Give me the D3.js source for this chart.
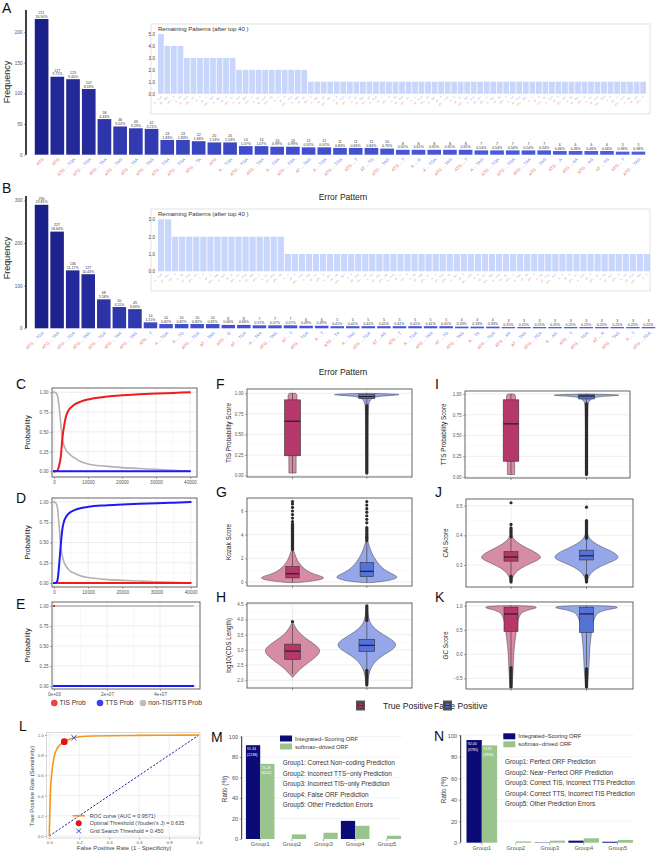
<!DOCTYPE html>
<html>
<head>
<meta charset="utf-8">
<script src="https://cdn.jsdelivr.net/npm/d3@7"></script>
<style>
  body { margin: 0; background: #fff; }
  svg { display: block; font-family: "Liberation Sans", Arial, sans-serif; }
</style>
</head>
<body>
<div id="chart"></div>
<script>
// ---------------- data ----------------
const totalA = 1308;
const countsA = [221,127,123,107,58,46,43,42,24,24,22,20,20,14,14,13,13,12,12,11,11,11,10,8,8,8,8,8,7,7,7,7,7,6,6,6,6,5,5];
const labelsA = ["ATG|","ATG|","ATG|TGA","ATG|TGA","ATG|TAA","ATG|TAG","ATG|TAA","ATG|TAG","ATG|TGA","ATG|TGA",
  "ATG|TA","ATG|","A|TGA","ATG|TGA","ATG|TAA","A|TGA","ATG|TGA","AT|TAG","A|TGA","ATG|TGA",
  "ATG|T","AT|TG","ATG|TAG","ATG|T","A|G","A|TGA","ATG|TAG","ATG|T","A|TAG","ATG|TGA",
  "ATG|TGA","ATG|TAA","ATG|TAG","ATG|A","ATG|AA","ATG|AG","AT|TG","ATG|T","ATG|TAG"];
const insetCountsA = [5,4,4,4,3,3,3,3,3,3,3,3,2,2,2,2,2,2,2,2,2,2,2,
  1,1,1,1,1,1,1,1,1,1,1,1,1, 1,1,1,1,1,1,1,1,1,1,1,1,1,
  1,1,1,1,1,1,1,1,1,1,1,1,1, 1,1,1,1,1,1,1,1,1,1,1,1,1];

const totalB = 1218;
const countsB = [290,227,136,127,68,50,45,14,10,10,10,10,8,8,7,7,7,6,6,5,5,5,5,5,5,5,5,4,4,4,3,3,3,3,3,3,3,3,3,3];
const labelsB = ["ATG|TGA","ATG|TAA","ATG|TGA","ATG|TAG","ATG|TGA","ATG|TAA","ATG|TAG","ATG|T","A|TGA","A|TG",
  "ATG|TGA","AT|TAG","ATG|G","AT|TGA","A|TAA","ATG|TAG","AT|T","ATG|TGA","A|T","ATG|TA",
  "A|TAG","ATG|TGA","AT|AG","ATG|T","A|TGA","ATG|TAA","AT|TG","ATG|TAG","A|TA","ATG|TGA",
  "ATG|AA","AT|TAG","ATG|TGA","A|AG","ATG|T","ATG|TGA","AT|A","ATG|TAG","A|T","ATG|TGA"];
const insetCountsB = [3,3,2,2,2,2,2,2,2,2,2,2,2,2,2,2,2,2,
  1,1,1,1,1,1,1,1,1,1,1,1,1, 1,1,1,1,1,1,1,1,1,1,1,1,1,
  1,1,1,1,1,1,1,1,1,1,1,1,1, 1,1,1,1,1,1,1,1,1,1,1,1,1];
const insetLabels = ("A|TGA AT|TAG ATG|T A|TA AT|TGA ATG|AG A|T AT|G ATG|TAA A|TAG AT|A ATG|TG A|TGA AT|TAA ATG|G " +
  "A|AG AT|TGA ATG|TA A|G AT|T ATG|TGA A|TAA AT|TG ATG|A A|TAG AT|AA ATG|TAG A|T AT|TGA ATG|GA " +
  "A|TG AT|TAG ATG|AA A|TGA AT|G ATG|T A|TA AT|TAA ATG|AG A|G AT|TGA ATG|TA A|TAG AT|T ATG|TGA " +
  "A|A AT|TG ATG|TAA A|TGA AT|AG ATG|G A|TAG AT|TA ATG|T A|AA AT|TGA ATG|TAG A|G AT|A ATG|TG " +
  "A|TGA AT|T ATG|AG A|TA AT|TAG ATG|A A|TG AT|TGA ATG|TAA A|T AT|G ATG|TGA A|TAG AT|AA ATG|T").split(" ");

// C / D / E : probability along the sequence
const posCD = [0,500,1000,1500,2000,2500,3000,3500,4000,5000,6000,8000,10000,15000,20000,25000,30000,35000,40000];
const cTIS = [0,0,0.01,0.07,0.19,0.43,0.58,0.69,0.75,0.81,0.845,0.885,0.91,0.943,0.962,0.974,0.984,0.992,1.0];
const cTTS = [0,0,0,0,0,0,0,0,0,0,0,0,0,0,0,0,0,0,0];
const cNon = [1.0,0.995,0.96,0.82,0.6,0.4,0.32,0.27,0.24,0.2,0.17,0.12,0.093,0.065,0.047,0.035,0.025,0.013,0.0];
const dTIS = [0,0,0,0,0,0,0,0,0,0,0,0,0,0,0,0,0,0,0];
const dTTS = [0,0,0.03,0.22,0.48,0.68,0.77,0.815,0.845,0.88,0.9,0.925,0.94,0.958,0.968,0.977,0.985,0.992,1.0];
const dNon = [1.0,0.99,0.93,0.7,0.45,0.32,0.25,0.21,0.18,0.14,0.12,0.085,0.068,0.045,0.033,0.024,0.016,0.008,0.0];
const posE = [0, 52600000];
const eTIS = [1, null];
const eTTS = [0, 0];
const eNon = [1, 1];
const probLegend = ["TIS Prob", "TTS Prob", "non-TIS/TTS Prob"];

// F-K : violin profiles [value, relative density], box stats [low, q1, median, q3, high]
const classNames = ["True Positive", "False Positive"];
const fTP = { prof: [[0.03,0.8],[0.1,0.8],[0.3,0.82],[0.5,0.82],[0.7,0.85],[0.85,0.9],[0.95,1],[0.99,1],[1.0,0.6]],
  box: [0.03,0.24,0.66,0.92,1.0], runs: [], dots: [] };
const fFP = { prof: [[0.03,0.02],[0.8,0.03],[0.88,0.06],[0.92,0.1],[0.95,0.2],[0.965,0.4],[0.975,0.75],[0.982,1],[0.99,0.9],[0.996,0.4],[1.0,0.05]],
  box: [0.86,0.935,0.96,0.985,1.0], runs: [[0.03,0.85]], dots: [] };
const gTP = { prof: [[-0.05,0.15],[0.1,0.7],[0.25,0.95],[0.4,1],[0.6,0.75],[0.8,0.55],[1.0,0.42],[1.3,0.3],[1.6,0.2],[2.0,0.12],[2.4,0.07],[2.7,0.03]],
  box: [-0.05,0.35,0.7,1.3,2.7], runs: [[2.75,4.9]], dots: [5.1,5.4,5.7,6.0,6.3,6.6,6.8] };
const gFP = { prof: [[-0.05,0.15],[0.1,0.68],[0.3,0.95],[0.45,1],[0.7,0.8],[1.0,0.58],[1.5,0.38],[2.0,0.25],[2.5,0.15],[3.0,0.08],[3.5,0.03]],
  box: [-0.05,0.45,0.9,1.65,3.5], runs: [[3.5,4.6]], dots: [3.75,5.0,5.3,5.6,5.9,6.2,6.5,6.8] };
const hTP = { prof: [[2.1,0.01],[2.2,0.1],[2.4,0.3],[2.6,0.6],[2.8,0.88],[2.95,1],[3.1,0.92],[3.3,0.6],[3.5,0.3],[3.7,0.12],[3.9,0.02]],
  box: [2.2,2.69,2.96,3.19,3.85], runs: [], dots: [3.93] };
const hFP = { prof: [[1.8,0.01],[2.0,0.04],[2.3,0.08],[2.6,0.25],[2.8,0.5],[3.0,0.85],[3.15,1],[3.3,0.9],[3.5,0.55],[3.7,0.25],[3.9,0.1],[4.1,0.05],[4.4,0.01]],
  box: [2.35,2.95,3.15,3.35,3.95], runs: [[3.97,4.45],[1.85,2.33]], dots: [] };
const iTP = { prof: [[0.03,0.8],[0.1,0.8],[0.3,0.82],[0.5,0.82],[0.7,0.85],[0.85,0.9],[0.95,1],[0.99,1],[1.0,0.6]],
  box: [0.03,0.19,0.64,0.93,1.0], runs: [], dots: [] };
const iFP = { prof: [[0.03,0.02],[0.85,0.03],[0.9,0.06],[0.93,0.1],[0.955,0.2],[0.97,0.4],[0.978,0.75],[0.985,1],[0.99,0.9],[0.996,0.4],[1.0,0.05]],
  box: [0.89,0.94,0.975,0.99,1.0], runs: [[0.03,0.88]], dots: [] };
const jTP = { prof: [[0.24,0.01],[0.26,0.05],[0.28,0.18],[0.3,0.5],[0.315,0.85],[0.325,1],[0.34,0.85],[0.355,0.55],[0.37,0.28],[0.385,0.1],[0.4,0.02]],
  box: [0.265,0.313,0.327,0.345,0.395], runs: [[0.395,0.425],[0.243,0.262]], dots: [0.437,0.51] };
const jFP = { prof: [[0.24,0.01],[0.26,0.05],[0.28,0.18],[0.3,0.5],[0.315,0.85],[0.325,1],[0.34,0.88],[0.355,0.58],[0.37,0.3],[0.385,0.12],[0.4,0.03],[0.42,0.01]],
  box: [0.27,0.317,0.331,0.35,0.39], runs: [[0.39,0.45],[0.243,0.265]], dots: [0.495] };
const kTP = { prof: [[-0.7,0.03],[-0.5,0.06],[-0.3,0.08],[0,0.1],[0.2,0.13],[0.4,0.18],[0.6,0.22],[0.8,0.3],[0.88,0.45],[0.93,0.75],[0.96,1],[0.99,0.85],[1.0,0.3]],
  box: [-0.25,0.47,0.83,0.97,1.0], runs: [[-0.68,-0.28]], dots: [] };
const kFP = { prof: [[-0.7,0.02],[-0.5,0.05],[-0.3,0.07],[0,0.09],[0.2,0.11],[0.4,0.14],[0.6,0.18],[0.8,0.26],[0.88,0.4],[0.93,0.72],[0.96,1],[0.99,0.85],[1.0,0.3]],
  box: [-0.25,0.45,0.83,0.97,1.0], runs: [[-0.68,-0.3]], dots: [] };

// L : ROC
const rocFpr = [0,0.003,0.008,0.015,0.025,0.035,0.05,0.07,0.1,0.13,0.165,0.2,0.25,0.3,0.4,0.6,0.8,1];
const rocTpr = [0,0.2,0.45,0.6,0.72,0.8,0.86,0.9,0.93,0.955,0.972,0.982,0.988,0.99,0.993,0.996,0.998,1];
const optPoint = [0.1, 0.934];
const gridPoint = [0.165, 0.973];
const rocLegend = ["ROC curve (AUC = 0.9571)", "Optimal Threshold (Youden's J) = 0.635", "Grid Search Threshold = 0.450"];

// M / N : grouped bars
const groups = ["Group1","Group2","Group3","Group4","Group5"];
const seriesNames = ["Integrated\u2212Scoring ORF", "softmax\u2212drived ORF"];
const mIntegrated = [91.5, 0, 0, 17.7, 0];
const mSoftmax = [73.3, 4.5, 6.1, 12.9, 3.2];
const mBarLabels = [["91.34","(1238)"],["73.28","(1102)"]];
const mDesc = ["Group1: Correct Non\u2212coding Prediction","Group2: Incorrect TTS\u2212only Prediction",
  "Group3: Incorrect TIS\u2212only Prediction","Group4: False ORF Prediction","Group5: Other Prediction Errors"];
const nIntegrated = [95.6, 0, 0.3, 1.9, 0.9];
const nSoftmax = [90.6, 1.25, 1.9, 4.1, 2.5];
const nBarLabels = [["92.00","(3785)"],["73.81","(3398)"]];
const nDesc = ["Group1: Perfect ORF Prediction","Group2: Near\u2212Perfect ORF Prediction",
  "Group3: Correct TIS, Incorrect TTS Prediction","Group4: Correct TTS, Incorrect TIS Prediction","Group5: Other Prediction Errors"];

// ---------------- drawing ----------------
const FONT = "'Liberation Sans', Arial, sans-serif";
const svg = d3.select("#chart").append("svg").attr("width", 658).attr("height", 854);
svg.append("rect").attr("width", 658).attr("height", 854).attr("fill", "#fff");

function letter(t, x, y) {
  svg.append("text").attr("x", x).attr("y", y).attr("font-size", 14).attr("fill", "#111").text(t);
}
function styleAxis(a, fs, col) {
  a.select(".domain").remove();
  a.selectAll(".tick line").attr("stroke", "#555").attr("stroke-width", 0.5);
  a.selectAll(".tick text").attr("font-size", fs).attr("fill", col || "#555").attr("font-family", FONT);
}
function patternLabel(g, str, x, y, fs) {
  const parts = str.split("|");
  const t = g.append("text").attr("transform", `translate(${x},${y}) rotate(-45)`)
    .attr("text-anchor", "end").attr("font-size", fs);
  t.append("tspan").attr("fill", "#e6676c").text(parts[0]);
  if (parts[1]) {
    t.append("tspan").attr("fill", "#b0b0b0").text(" ... ");
    t.append("tspan").attr("fill", "#6a7ce6").text(parts[1]);
  }
}

// ---- A / B main bar chart ----
function barChart(cfg) {
  const g = svg.append("g");
  const x = d3.scaleBand().domain(d3.range(cfg.counts.length)).range([cfg.x0, cfg.x1]).paddingInner(0.13).paddingOuter(0.05);
  const y = d3.scaleLinear().domain([0, cfg.yMax]).range([cfg.yBase, cfg.yTop]);
  const col = d3.scaleLog().domain([d3.min(cfg.counts), d3.max(cfg.counts)]).range(["#4d5ee4", "#1b1f89"]);

  const ax = g.append("g").attr("transform", `translate(${cfg.axisX},0)`)
    .call(d3.axisLeft(y).tickValues(cfg.ticks).tickSize(2).tickSizeOuter(0).tickPadding(1.5));
  styleAxis(ax, 4.6);
  g.append("line").attr("x1", cfg.axisX).attr("x2", cfg.axisX).attr("y1", cfg.yTop).attr("y2", cfg.yBase)
    .attr("stroke", "#111").attr("stroke-width", 1.6);

  g.selectAll("rect.bar").data(cfg.counts).join("rect").attr("class", "bar")
    .attr("x", (d, i) => x(i)).attr("y", d => y(d))
    .attr("width", x.bandwidth()).attr("height", d => cfg.yBase - y(d))
    .attr("fill", d => col(d));

  const lab = g.append("g").attr("font-size", 3.6).attr("fill", "#333").attr("text-anchor", "middle");
  cfg.counts.forEach((d, i) => {
    const cx = x(i) + x.bandwidth() / 2;
    lab.append("text").attr("x", cx).attr("y", y(d) - 5.2).text(d);
    lab.append("text").attr("x", cx).attr("y", y(d) - 1.4).text((d / cfg.total * 100).toFixed(2) + "%");
    patternLabel(g, cfg.labels[i], cx + 2.5, cfg.yBase + 5, 4.3);
  });

  g.append("text").attr("transform", `translate(${cfg.axisX - 16},${cfg.yMid}) rotate(-90)`)
    .attr("text-anchor", "middle").attr("font-size", 9).attr("fill", "#222").text("Frequency");
  g.append("text").attr("x", 343).attr("y", cfg.titleY).attr("text-anchor", "middle")
    .attr("font-size", 8.5).attr("fill", "#222").text("Error Pattern");
}

function inset(cfg) {
  const g = svg.append("g");
  g.append("rect").attr("x", cfg.bx0).attr("y", cfg.by0).attr("width", cfg.bx1 - cfg.bx0).attr("height", cfg.by1 - cfg.by0)
    .attr("fill", "#fff").attr("stroke", "#e2e2e2").attr("stroke-width", 1);
  g.append("text").attr("x", cfg.bx0 + 7).attr("y", cfg.by0 + 6.5).attr("font-size", 6).attr("fill", "#333")
    .text("Remaining Patterns (after top 40 )");
  const x = d3.scaleBand().domain(d3.range(cfg.counts.length)).range([cfg.x0, cfg.x1]).paddingInner(0.12);
  const y = d3.scaleLinear().domain([0, d3.max(cfg.ticks)]).range([cfg.yBase, cfg.yTop]);
  const ax = g.append("g").attr("transform", `translate(${cfg.x0 - 1},0)`)
    .call(d3.axisLeft(y).tickValues(cfg.ticks).tickSize(0).tickPadding(2));
  styleAxis(ax, 4.6, "#444");
  g.selectAll("rect.ib").data(cfg.counts).join("rect").attr("class", "ib")
    .attr("x", (d, i) => x(i)).attr("y", d => y(d))
    .attr("width", x.bandwidth()).attr("height", d => cfg.yBase - y(d)).attr("fill", "#c8d6fc");
  cfg.counts.forEach((d, i) => {
    patternLabel(g, cfg.labels[i], x(i) + x.bandwidth() / 2 + 1, cfg.yBase + 3.5, 2.4);
  });
}

letter("A", 2, 13);
barChart({ counts: countsA, labels: labelsA, total: totalA, x0: 34, x1: 646, yBase: 154.7, yTop: 10, yMax: 235.7,
  ticks: [0, 50, 100, 150, 200], axisX: 26, yMid: 82, titleY: 200 });
inset({ bx0: 151, by0: 24, bx1: 650, by1: 114, x0: 158, x1: 646, yBase: 93.7, yTop: 34, ticks: [0,1,2,3,4,5],
  counts: insetCountsA, labels: insetLabels });

letter("B", 2, 193);
barChart({ counts: countsB, labels: labelsB, total: totalB, x0: 34, x1: 656, yBase: 328.3, yTop: 196, yMax: 310.6,
  ticks: [0, 100, 200, 300], axisX: 26, yMid: 258, titleY: 375 });
inset({ bx0: 151, by0: 209, bx1: 650, by1: 291, x0: 158, x1: 650, yBase: 271.3, yTop: 219.3, ticks: [0,1,2,3],
  counts: insetCountsB, labels: insetLabels.slice(0, insetCountsB.length) });

// ---- C / D / E probability panels ----
const probColors = ["#ee1c1c", "#1c1cf2", "#b2b2b2"];
function probPanel(cfg) {
  const g = svg.append("g");
  const b = cfg.box;
  const x = d3.scaleLinear().domain(cfg.xDomain).range(cfg.xRange);
  const y = d3.scaleLinear().domain([0, 1]).range(cfg.yRange);
  const yTicks = [0, 0.25, 0.5, 0.75, 1];
  g.append("rect").attr("x", b[0]).attr("y", b[1]).attr("width", b[2] - b[0]).attr("height", b[3] - b[1]).attr("fill", "#fff");
  const xMinor = cfg.xTicks.slice(1).map((t, i) => (t + cfg.xTicks[i]) / 2);
  const yMinor = yTicks.slice(1).map((t, i) => (t + yTicks[i]) / 2);
  xMinor.forEach(t => g.append("line").attr("x1", x(t)).attr("x2", x(t)).attr("y1", b[1]).attr("y2", b[3]).attr("stroke", "#f3f3f3").attr("stroke-width", 0.5));
  yMinor.forEach(t => g.append("line").attr("x1", b[0]).attr("x2", b[2]).attr("y1", y(t)).attr("y2", y(t)).attr("stroke", "#f3f3f3").attr("stroke-width", 0.5));
  cfg.xTicks.forEach(t => g.append("line").attr("x1", x(t)).attr("x2", x(t)).attr("y1", b[1]).attr("y2", b[3]).attr("stroke", "#e6e6e6").attr("stroke-width", 0.7));
  yTicks.forEach(t => g.append("line").attr("x1", b[0]).attr("x2", b[2]).attr("y1", y(t)).attr("y2", y(t)).attr("stroke", "#e6e6e6").attr("stroke-width", 0.7));

  const line = d3.line().defined(d => d[1] !== null).x(d => x(d[0])).y(d => y(d[1])).curve(d3.curveMonotoneX);
  // draw order: non-TIS/TTS, TIS, TTS
  [2, 0, 1].forEach(k => {
    const pts = cfg.xs.map((v, i) => [v, cfg.series[k][i]]);
    g.append("path").attr("d", line(pts)).attr("fill", "none").attr("stroke", probColors[k])
      .attr("stroke-width", k === 2 ? 1.6 : 2).attr("stroke-linecap", "round");
    pts.filter(p => p[1] !== null).slice(0, 1).forEach(p =>
      g.append("circle").attr("cx", x(p[0])).attr("cy", y(p[1])).attr("r", 1).attr("fill", probColors[k]));
  });

  g.append("rect").attr("x", b[0]).attr("y", b[1]).attr("width", b[2] - b[0]).attr("height", b[3] - b[1])
    .attr("fill", "none").attr("stroke", "#555").attr("stroke-width", 0.9);
  const ax = g.append("g").attr("transform", `translate(0,${b[3]})`)
    .call(d3.axisBottom(x).tickValues(cfg.xTicks).tickFormat(cfg.xFormat).tickSize(2).tickPadding(1.5));
  styleAxis(ax, 4.6);
  const ay = g.append("g").attr("transform", `translate(${b[0]},0)`)
    .call(d3.axisLeft(y).tickValues(yTicks).tickFormat(d3.format(".2f")).tickSize(2).tickPadding(1.5));
  styleAxis(ay, 4.6);
  g.append("text").attr("transform", `translate(${b[0] - 22},${(b[1] + b[3]) / 2}) rotate(-90)`)
    .attr("text-anchor", "middle").attr("font-size", 7.3).attr("fill", "#222").text("Probability");
}
const sciFmt = d => {
  if (d === 0) return "0e+00";
  const e = Math.floor(Math.log10(d));
  return `${Math.round(d / Math.pow(10, e))}e+${String(e).padStart(2, "0")}`;
};

letter("C", 16, 389);
probPanel({ box: [52, 388, 197, 477], xDomain: [0, 40000], xRange: [54, 190], yRange: [471.3, 392.3],
  xTicks: [0, 10000, 20000, 30000, 40000], xFormat: d3.format("d"), xs: posCD, series: [cTIS, cTTS, cNon] });
letter("D", 16, 503);
probPanel({ box: [52, 498, 197, 587], xDomain: [0, 40000], xRange: [54, 190.7], yRange: [583, 502],
  xTicks: [0, 10000, 20000, 30000, 40000], xFormat: d3.format("d"), xs: posCD, series: [dTIS, dTTS, dNon] });
letter("E", 16, 609);
probPanel({ box: [52, 602, 200, 689], xDomain: [0, 20000000], xRange: [54, 107], yRange: [686, 606],
  xTicks: [0, 20000000, 40000000], xFormat: sciFmt, xs: posE, series: [eTIS, eTTS, eNon] });

// legend of C-E
const leg = svg.append("g").attr("font-size", 6.6).attr("fill", "#333");
[54.3, 100, 143].forEach((lx, i) => {
  leg.append("circle").attr("cx", lx).attr("cy", 703).attr("r", 3.3).attr("fill", probColors[i]).attr("opacity", 0.85);
  leg.append("text").attr("x", lx + 5.3).attr("y", 705.4).text(probLegend[i]);
});

// ---- F-K violin panels ----
const classColors = [{ violin: "#d4869f", box: "#b6386b" }, { violin: "#8fa2e7", box: "#5572d8" }];
function violinPanel(cfg) {
  const g = svg.append("g");
  const b = cfg.box;
  const y = d3.scaleLinear().domain(cfg.yDomain).range(cfg.yRange);
  g.append("rect").attr("x", b[0]).attr("y", b[1]).attr("width", b[2] - b[0]).attr("height", b[3] - b[1]).attr("fill", "#fff");
  const minor = cfg.ticks.slice(1).map((t, i) => (t + cfg.ticks[i]) / 2);
  minor.forEach(t => g.append("line").attr("x1", b[0]).attr("x2", b[2]).attr("y1", y(t)).attr("y2", y(t)).attr("stroke", "#f3f3f3").attr("stroke-width", 0.5));
  cfg.ticks.forEach(t => g.append("line").attr("x1", b[0]).attr("x2", b[2]).attr("y1", y(t)).attr("y2", y(t)).attr("stroke", "#e6e6e6").attr("stroke-width", 0.7));
  cfg.centers.forEach(c => g.append("line").attr("x1", c).attr("x2", c).attr("y1", b[1]).attr("y2", b[3]).attr("stroke", "#e6e6e6").attr("stroke-width", 0.7));

  cfg.data.forEach((d, k) => {
    const cx = cfg.centers[k];
    const w = d3.scaleLinear().domain([0, 1]).range([0, cfg.maxHW[k]]);
    const area = d3.area().y(p => y(p[0])).x0(p => cx - w(p[1])).x1(p => cx + w(p[1])).curve(d3.curveBasis);
    g.append("path").attr("d", area(d.prof)).attr("fill", classColors[k].violin).attr("fill-opacity", 0.95)
      .attr("stroke", "#4a4a4a").attr("stroke-width", 0.55);
    const [lo, q1, med, q3, hi] = d.box;
    g.append("line").attr("x1", cx).attr("x2", cx).attr("y1", y(lo)).attr("y2", y(q1)).attr("stroke", "#333").attr("stroke-width", 0.6);
    g.append("line").attr("x1", cx).attr("x2", cx).attr("y1", y(q3)).attr("y2", y(hi)).attr("stroke", "#333").attr("stroke-width", 0.6);
    d.runs.forEach(r => g.append("line").attr("x1", cx).attr("x2", cx).attr("y1", y(r[0])).attr("y2", y(r[1]))
      .attr("stroke", "#2b2b2b").attr("stroke-width", 3.2).attr("stroke-linecap", "round"));
    d.dots.forEach(v => g.append("circle").attr("cx", cx).attr("cy", y(v)).attr("r", 1.6).attr("fill", "#2b2b2b"));
    g.append("rect").attr("x", cx - cfg.boxHW).attr("y", y(q3)).attr("width", 2 * cfg.boxHW).attr("height", y(q1) - y(q3))
      .attr("fill", classColors[k].box).attr("stroke", "#333").attr("stroke-width", 0.6);
    g.append("line").attr("x1", cx - cfg.boxHW).attr("x2", cx + cfg.boxHW).attr("y1", y(med)).attr("y2", y(med))
      .attr("stroke", "#222").attr("stroke-width", 1.2);
    g.append("line").attr("x1", cx).attr("x2", cx).attr("y1", b[3]).attr("y2", b[3] + 2).attr("stroke", "#555").attr("stroke-width", 0.6);
  });

  g.append("rect").attr("x", b[0]).attr("y", b[1]).attr("width", b[2] - b[0]).attr("height", b[3] - b[1])
    .attr("fill", "none").attr("stroke", "#555").attr("stroke-width", 0.9);
  const ay = g.append("g").attr("transform", `translate(${b[0]},0)`)
    .call(d3.axisLeft(y).tickValues(cfg.ticks).tickFormat(d3.format(cfg.fmt)).tickSize(2).tickPadding(1.5));
  styleAxis(ay, 4.5);
  g.append("text").attr("transform", `translate(${b[0] - cfg.labelOff},${(b[1] + b[3]) / 2}) rotate(-90)`)
    .attr("text-anchor", "middle").attr("font-size", 6.4).attr("fill", "#222").text(cfg.ylabel);
}

const cLeft = [292.5, 366.8], cRight = [511, 586.5];
letter("F", 216, 389);
violinPanel({ box: [247, 389, 412, 477], yDomain: [0, 1], yRange: [475.5, 393.3], ticks: [0, 0.25, 0.5, 0.75, 1], fmt: ".2f",
  centers: cLeft, data: [fTP, fFP], maxHW: [4.5, 34], boxHW: 8, ylabel: "TIS Probability Score", labelOff: 16.5 });
letter("G", 216, 497);
violinPanel({ box: [247, 498, 412, 586], yDomain: [0, 6], yRange: [582, 511], ticks: [0, 2, 4, 6], fmt: "d",
  centers: cLeft, data: [gTP, gFP], maxHW: [32, 31], boxHW: 6.7, ylabel: "Kozak Score", labelOff: 16.5 });
letter("H", 216, 602);
violinPanel({ box: [247, 603, 412, 688], yDomain: [2, 4.5], yRange: [680.3, 604.3], ticks: [2, 2.5, 3, 3.5, 4, 4.5], fmt: ".1f",
  centers: cLeft, data: [hTP, hFP], maxHW: [28, 30], boxHW: 7.8, ylabel: "log10(CDS Length)", labelOff: 16.5 });
letter("I", 435, 389);
violinPanel({ box: [465, 391, 630, 478], yDomain: [0, 1], yRange: [477, 394], ticks: [0, 0.25, 0.5, 0.75, 1], fmt: ".2f",
  centers: cRight, data: [iTP, iFP], maxHW: [4.5, 34], boxHW: 7.8, ylabel: "TTS Probability Score", labelOff: 19 });
letter("J", 435, 497);
violinPanel({ box: [466, 499, 633, 587], yDomain: [0.3, 0.5], yRange: [565, 505.7], ticks: [0.3, 0.4, 0.5], fmt: ".1f",
  centers: cRight, data: [jTP, jFP], maxHW: [31, 33], boxHW: 7, ylabel: "CAI Score", labelOff: 18 });
letter("K", 435, 602);
violinPanel({ box: [466, 602, 633, 689], yDomain: [-0.5, 1], yRange: [678.3, 605.7], ticks: [-0.5, 0, 0.5, 1], fmt: ".1f",
  centers: cRight, data: [kTP, kFP], maxHW: [27, 33], boxHW: 7, ylabel: "GC Score", labelOff: 18 });

// class legend
function classGlyph(x, y, k) {
  svg.append("rect").attr("x", x).attr("y", y).attr("width", 9).attr("height", 10).attr("fill", "#555");
  svg.append("rect").attr("x", x + 2).attr("y", y + 2.5).attr("width", 5).attr("height", 5).attr("fill", classColors[k].box)
    .attr("stroke", "#222").attr("stroke-width", 0.5);
  svg.append("line").attr("x1", x + 2).attr("x2", x + 7).attr("y1", y + 5).attr("y2", y + 5).attr("stroke", "#222").attr("stroke-width", 0.8);
}
svg.append("text").attr("x", 383).attr("y", 709).attr("font-size", 8.6).attr("fill", "#222").text(classNames[0]);
svg.append("text").attr("x", 434).attr("y", 709).attr("font-size", 8.6).attr("fill", "#222").text(classNames[1]);
classGlyph(356, 700.5, 0);
classGlyph(443, 700.5, 1);

// ---- L ROC ----
letter("L", 19, 731);
(function () {
  const g = svg.append("g");
  const b = [46.5, 732.5, 200, 838];
  const x = d3.scaleLinear().domain([0, 1]).range([49.3, 199]);
  const y = d3.scaleLinear().domain([0, 1]).range([836, 735]);
  const ticks = [0, 0.2, 0.4, 0.6, 0.8, 1];
  g.append("rect").attr("x", b[0]).attr("y", b[1]).attr("width", b[2] - b[0]).attr("height", b[3] - b[1]).attr("fill", "#fff");
  ticks.forEach(t => {
    g.append("line").attr("x1", x(t)).attr("x2", x(t)).attr("y1", b[1]).attr("y2", b[3]).attr("stroke", "#e4e4e4").attr("stroke-width", 0.6);
    g.append("line").attr("x1", b[0]).attr("x2", b[2]).attr("y1", y(t)).attr("y2", y(t)).attr("stroke", "#e4e4e4").attr("stroke-width", 0.6);
  });
  g.append("rect").attr("x", b[0]).attr("y", b[1]).attr("width", b[2] - b[0]).attr("height", b[3] - b[1])
    .attr("fill", "none").attr("stroke", "#d0d0d0").attr("stroke-width", 0.8);
  g.append("line").attr("x1", x(0)).attr("y1", y(0)).attr("x2", x(1)).attr("y2", y(1))
    .attr("stroke", "#1c1c9c").attr("stroke-width", 1).attr("stroke-dasharray", "2.2,1.6");
  const line = d3.line().x(d => x(d[0])).y(d => y(d[1])).curve(d3.curveMonotoneX);
  g.append("path").attr("d", line(rocFpr.map((f, i) => [f, rocTpr[i]]))).attr("fill", "none")
    .attr("stroke", "#f5961d").attr("stroke-width", 1.6);
  g.append("circle").attr("cx", x(optPoint[0])).attr("cy", y(optPoint[1])).attr("r", 3.4).attr("fill", "#e3121a");
  const cross = (cx, cy, s) => g.append("path").attr("d", `M${cx - s},${cy - s}L${cx + s},${cy + s}M${cx - s},${cy + s}L${cx + s},${cy - s}`)
    .attr("stroke", "#3146e6").attr("stroke-width", 1);
  cross(x(gridPoint[0]), y(gridPoint[1]), 2.6);

  const ax = g.append("g").attr("transform", `translate(0,${b[3]})`)
    .call(d3.axisBottom(x).tickValues(ticks).tickFormat(d3.format(".1f")).tickSize(1.5).tickPadding(1.2));
  styleAxis(ax, 4.4, "#666");
  const ay = g.append("g").attr("transform", `translate(${b[0]},0)`)
    .call(d3.axisLeft(y).tickValues(ticks).tickFormat(d3.format(".1f")).tickSize(1.5).tickPadding(1.2));
  styleAxis(ay, 4.4, "#666");
  g.append("text").attr("x", 124).attr("y", 850).attr("text-anchor", "middle").attr("font-size", 6.1).attr("fill", "#444")
    .text("False Positive Rate (1 - Specificity)");
  g.append("text").attr("transform", `translate(34,786) rotate(-90)`).attr("text-anchor", "middle")
    .attr("font-size", 5.9).attr("fill", "#444").text("True Positive Rate (Sensitivity)");

  const ly = [815.7, 823.3, 831];
  g.append("line").attr("x1", 72.5).attr("x2", 85).attr("y1", ly[0]).attr("y2", ly[0]).attr("stroke", "#f5961d").attr("stroke-width", 1.6);
  g.append("circle").attr("cx", 78.7).attr("cy", ly[1]).attr("r", 3).attr("fill", "#e3121a");
  cross(78.7, ly[2], 2.4);
  rocLegend.forEach((t, i) => g.append("text").attr("x", 89.7).attr("y", ly[i] + 1.9).attr("font-size", 5.4).attr("fill", "#444").text(t));
})();

// ---- M / N grouped bars ----
const seriesColors = ["#0b0b78", "#9ac48d"];
function groupedBars(cfg) {
  const g = svg.append("g");
  const x = d3.scaleBand().domain(groups).range([cfg.x0, cfg.x1]).paddingInner(0.08).paddingOuter(0.02);
  const xs = d3.scaleBand().domain([0, 1]).range([0, x.bandwidth()]).paddingOuter(0.02);
  const y = d3.scaleLinear().domain([0, 100]).range([cfg.yBase, cfg.yTop]);
  [20, 40, 60, 80, 100].forEach(t => g.append("line").attr("x1", cfg.axisX).attr("x2", cfg.x1)
    .attr("y1", y(t)).attr("y2", y(t)).attr("stroke", "#eeeeee").attr("stroke-width", 0.7));
  [cfg.a, cfg.b].forEach((vals, k) => {
    g.selectAll(null).data(vals).join("rect")
      .attr("x", (d, i) => x(groups[i]) + xs(k)).attr("y", d => y(d))
      .attr("width", xs.bandwidth()).attr("height", d => cfg.yBase - y(d)).attr("fill", seriesColors[k]);
    const bx = x(groups[0]) + xs(k) + 1.2;
    g.append("text").attr("x", bx).attr("y", y(vals[0]) + 5).attr("font-size", 3.6).attr("fill", "#fff").text(cfg.barLabels[k][0]);
    g.append("text").attr("x", bx).attr("y", y(vals[0]) + 10.5).attr("font-size", 3.6).attr("fill", "#fff").text(cfg.barLabels[k][1]);
  });
  const ay = g.append("g").attr("transform", `translate(${cfg.axisX},0)`)
    .call(d3.axisLeft(y).tickValues([0, 20, 40, 60, 80, 100]).tickSize(2).tickPadding(1.5));
  styleAxis(ay, 5.6);
  g.append("line").attr("x1", cfg.axisX).attr("x2", cfg.axisX).attr("y1", y(100)).attr("y2", cfg.yBase).attr("stroke", "#111").attr("stroke-width", 0.9);
  const ax = g.append("g").attr("transform", `translate(0,${cfg.yBase})`)
    .call(d3.axisBottom(x).tickSize(2).tickPadding(1.5));
  styleAxis(ax, 5.6);
  g.append("text").attr("transform", `translate(${cfg.axisX - 15},${cfg.yMid}) rotate(-90)`).attr("text-anchor", "middle")
    .attr("font-size", 6.3).attr("fill", "#333").text("Ratio (%)");

  seriesNames.forEach((s, k) => {
    g.append("rect").attr("x", cfg.legX).attr("y", cfg.legY + k * 8).attr("width", 12).attr("height", 6).attr("fill", seriesColors[k]);
    g.append("text").attr("x", cfg.legX + 15).attr("y", cfg.legY + k * 8 + 5).attr("font-size", 5.8).attr("fill", "#333").text(s);
  });
  cfg.desc.forEach((t, i) => g.append("text").attr("x", cfg.descX).attr("y", cfg.descY + i * 10.6)
    .attr("font-size", 6.4).attr("fill", "#333").text(t));
}

letter("M", 211, 742);
groupedBars({ a: mIntegrated, b: mSoftmax, barLabels: mBarLabels, desc: mDesc, x0: 245, x1: 402, yBase: 839, yTop: 736.5,
  axisX: 241.7, yMid: 789, legX: 280, legY: 735.5, descX: 282.7, descY: 765 });
letter("N", 434, 741);
groupedBars({ a: nIntegrated, b: nSoftmax, barLabels: nBarLabels, desc: nDesc, x0: 465.5, x1: 634, yBase: 842.7, yTop: 735.3,
  axisX: 460.7, yMid: 790, legX: 503.3, legY: 733.3, descX: 505, descY: 764 });
</script>
</body>
</html>
